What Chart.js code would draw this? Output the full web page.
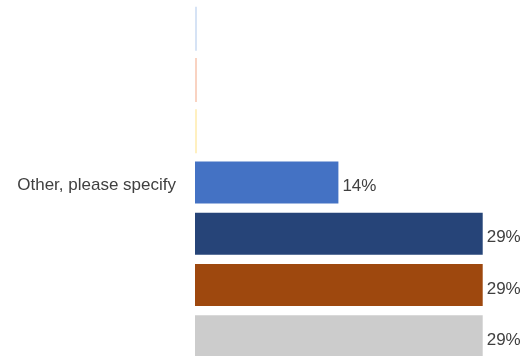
<!DOCTYPE html>
<html>
<head>
<meta charset="utf-8">
<script src="https://cdn.jsdelivr.net/npm/chart.js@4.4.0/dist/chart.umd.min.js"></script>
<style>
    html, body { margin: 0; padding: 0; background: #fff; overflow: hidden; }
    canvas { display: block; }
</style>
</head>
<body>
<canvas id="chart" width="523" height="362"></canvas>
<script>
const categories = ["Other, please specify"];
const seriesNames = ["A", "B", "C", "D", "E", "F", "G"];
const seriesValues = [0, 0, 0, 14.29, 28.57, 28.57, 28.57];
const valueLabels = ["0%", "0%", "0%", "14%", "29%", "29%", "29%"];
const seriesColors = ["#d6e3f5", "#f9d3c2", "#fff0c0", "#4472c4", "#264478", "#9e480e", "#cccccc"];

// draws the % labels just past the end of each bar
const barLabels = {
    id: 'barLabels',
    afterDatasetsDraw(chart) {
        const ctx = chart.ctx;
        ctx.save();
        ctx.font = '17px "Liberation Sans", Arial, sans-serif';
        ctx.fillStyle = '#404040';
        ctx.textAlign = 'left';
        ctx.textBaseline = 'middle';
        chart.data.datasets.forEach(function (ds, i) {
            if (!ds.data[0]) {
                return;
            }
            const bar = chart.getDatasetMeta(i).data[0];
            ctx.fillText(valueLabels[i], bar.x + 3, bar.y + 4);
        });
        ctx.restore();
    }
};

const datasets = seriesNames.map(function (name, i) {
    return {
        label: name,
        data: [seriesValues[i]],
        backgroundColor: seriesColors[i],
        borderColor: seriesValues[i] ? 'rgba(255,255,255,0.6)' : seriesColors[i],
        borderWidth: seriesValues[i] ? 1 : 0,
        minBarLength: 2
    };
});

new Chart(document.getElementById('chart'), {
    type: 'bar',
    data: {
        labels: categories,
        datasets: datasets
    },
    plugins: [barLabels],
    options: {
        indexAxis: 'y',
        responsive: false,
        animation: false,
        datasets: {
            bar: {
                barPercentage: 0.858,
                categoryPercentage: 1
            }
        },
        layout: {
            padding: { top: 3, right: 40, bottom: 0, left: 0 }
        },
        plugins: {
            legend: { display: false },
            tooltip: { enabled: false }
        },
        scales: {
            x: {
                display: false,
                min: 0,
                max: 28.5
            },
            y: {
                grid: { display: false, drawTicks: false },
                border: { display: false },
                afterFit: function (scale) {
                    // fixed label column, and no extra room above/below for the tick label
                    scale.width = 195;
                    scale.paddingTop = 0;
                    scale.paddingBottom = 0;
                },
                ticks: {
                    color: '#404040',
                    padding: 19,
                    labelOffset: 3,
                    font: { family: '"Liberation Sans", Arial, sans-serif', size: 17 }
                }
            }
        }
    }
});
</script>
</body>
</html>
